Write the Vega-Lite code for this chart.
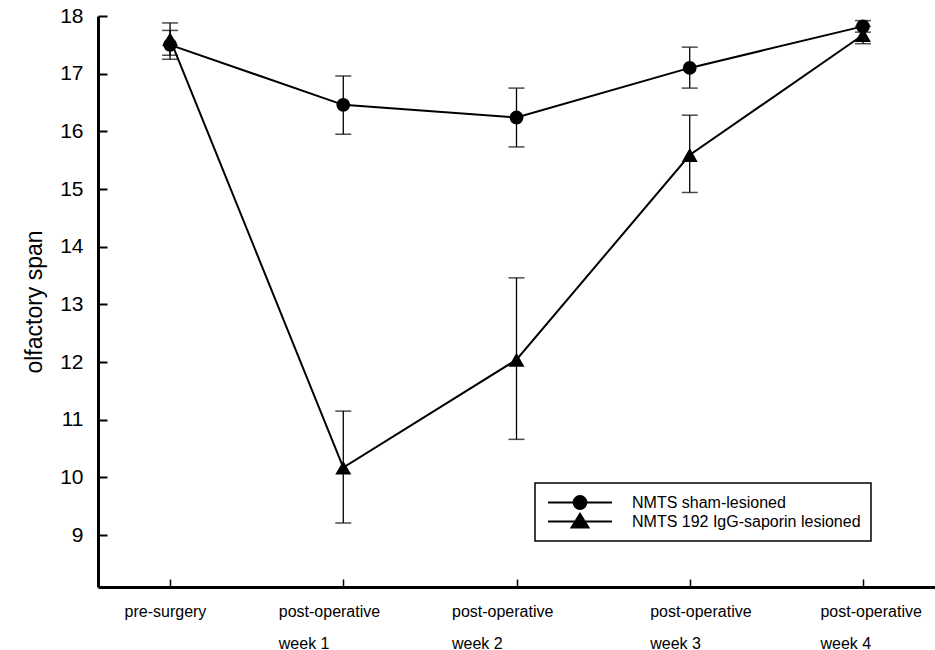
{
  "$schema": "https://vega.github.io/schema/vega-lite/v6.json",
  "width": 837,
  "height": 571,
  "autosize": "none",
  "padding": {"left": 98, "top": 16, "right": 0, "bottom": 63},
  "background": "white",
  "config": {
    "view": {"stroke": null},
    "font": "Liberation Sans",
    "legend": {"strokeWidth": 1.5, "labelFontSize": 16, "labelColor": "black"},
    "axisY": {
      "titleFontSize": 23,
      "titleFontWeight": "normal",
      "titleColor": "black",
      "titlePadding": 13,
      "labelFontSize": 21,
      "labelColor": "black",
      "labelPadding": 24,
      "domainColor": "black",
      "domainWidth": 3,
      "tickColor": "black",
      "tickWidth": 2,
      "tickSize": -9,
      "grid": false
    },
    "axisX": {
      "labelFontSize": 16,
      "labelColor": "black",
      "domainColor": "black",
      "domainWidth": 3,
      "tickColor": "black",
      "tickWidth": 1.5,
      "tickSize": -8,
      "grid": false
    }
  },
  "data": {
    "values": [
      {"phase": "pre-surgery", "group": "NMTS sham-lesioned", "mean": 17.5, "lo": 17.25, "hi": 17.75},
      {"phase": "post-operative week 1", "group": "NMTS sham-lesioned", "mean": 16.46, "lo": 15.95, "hi": 16.96},
      {"phase": "post-operative week 2", "group": "NMTS sham-lesioned", "mean": 16.24, "lo": 15.73, "hi": 16.75},
      {"phase": "post-operative week 3", "group": "NMTS sham-lesioned", "mean": 17.1, "lo": 16.75, "hi": 17.46},
      {"phase": "post-operative week 4", "group": "NMTS sham-lesioned", "mean": 17.82, "lo": 17.72, "hi": 17.92},
      {"phase": "pre-surgery", "group": "NMTS 192 IgG-saporin lesioned", "mean": 17.6, "lo": 17.32, "hi": 17.88},
      {"phase": "post-operative week 1", "group": "NMTS 192 IgG-saporin lesioned", "mean": 10.17, "lo": 9.21, "hi": 11.15},
      {"phase": "post-operative week 2", "group": "NMTS 192 IgG-saporin lesioned", "mean": 12.04, "lo": 10.66, "hi": 13.46},
      {"phase": "post-operative week 3", "group": "NMTS 192 IgG-saporin lesioned", "mean": 15.59, "lo": 14.94, "hi": 16.28},
      {"phase": "post-operative week 4", "group": "NMTS 192 IgG-saporin lesioned", "mean": 17.67, "lo": 17.52, "hi": 17.82}
    ]
  },
  "encoding": {
    "x": {
      "field": "phase",
      "type": "ordinal",
      "sort": ["pre-surgery", "post-operative week 1", "post-operative week 2", "post-operative week 3", "post-operative week 4"],
      "scale": {"type": "point", "padding": 0.416},
      "axis": {
        "title": null,
        "labelAngle": 0,
        "labelAlign": "left",
        "labelBaseline": "top",
        "labelPadding": 24,
        "labelLineHeight": 32,
        "labelExpr": "datum.value == 'pre-surgery' ? datum.label : ['post-operative', replace(datum.label, 'post-operative ', '')]",
        "labelOffset": {
          "condition": [
            {"test": "datum.value == 'pre-surgery'", "value": -46},
            {"test": "datum.value == 'post-operative week 3'", "value": -40},
            {"test": "datum.value == 'post-operative week 4'", "value": -43}
          ],
          "value": -65
        }
      }
    }
  },
  "layer": [
    {
      "mark": {"type": "line", "color": "black", "strokeWidth": 2},
      "encoding": {
        "y": {
          "field": "mean",
          "type": "quantitative",
          "scale": {"domain": [8.1, 18], "nice": false, "zero": false},
          "axis": {
            "title": "olfactory span",
            "format": "d",
            "values": [9, 10, 11, 12, 13, 14, 15, 16, 17, 18]
          }
        },
        "detail": {"field": "group"}
      }
    },
    {
      "mark": {"type": "errorbar", "color": "black", "thickness": 1.3, "ticks": {"size": 16, "thickness": 1.5, "color": "black"}},
      "encoding": {
        "y": {
          "field": "lo",
          "type": "quantitative",
          "axis": {
            "title": "olfactory span",
            "format": "d",
            "values": [9, 10, 11, 12, 13, 14, 15, 16, 17, 18]
          }
        },
        "y2": {"field": "hi"},
        "detail": {"field": "group"}
      }
    },
    {
      "mark": {"type": "point", "filled": true, "opacity": 1, "color": "black"},
      "encoding": {
        "y": {"field": "mean", "type": "quantitative", "axis": {"title": "olfactory span", "format": "d", "values": [9, 10, 11, 12, 13, 14, 15, 16, 17, 18]}},
        "shape": {
          "field": "group",
          "scale": {"domain": ["NMTS sham-lesioned", "NMTS 192 IgG-saporin lesioned"], "range": ["circle", "triangle-up"]},
          "legend": null
        },
        "size": {
          "field": "group",
          "scale": {"domain": ["NMTS sham-lesioned", "NMTS 192 IgG-saporin lesioned"], "range": [190, 256]},
          "legend": null
        }
      }
    },
    {
      "mark": {"type": "point", "filled": false, "opacity": 0, "color": "black", "size": 0},
      "encoding": {
        "y": {"field": "mean", "type": "quantitative", "axis": {"title": "olfactory span", "format": "d", "values": [9, 10, 11, 12, 13, 14, 15, 16, 17, 18]}},
        "shape": {
          "field": "group",
          "scale": {
            "domain": ["NMTS sham-lesioned", "NMTS 192 IgG-saporin lesioned"],
            "range": [
              "M-5.33,0L5.33,0M1.067,0A1.067,1.067,0,1,1,-1.067,0A1.067,1.067,0,1,1,1.067,0ZM0.733,0A0.733,0.733,0,1,1,-0.733,0A0.733,0.733,0,1,1,0.733,0ZM0.4,0A0.4,0.4,0,1,1,-0.4,0A0.4,0.4,0,1,1,0.4,0ZM0.107,0A0.107,0.107,0,1,1,-0.107,0A0.107,0.107,0,1,1,0.107,0Z",
              "M-5.33,0L5.33,0M0,-1.267L1.4,1L-1.4,1ZM0,-0.822L0.98,0.765L-0.98,0.765ZM0,-0.375L0.56,0.532L-0.56,0.532ZM0,0.04L0.168,0.312L-0.168,0.312Z"
            ]
          },
          "legend": {
            "title": null,
            "orient": "none",
            "legendX": 437,
            "legendY": 467,
            "padding": 10,
            "strokeColor": "black",
            "fillColor": "white",
            "symbolSize": 144,
            "symbolOffset": 27,
            "symbolStrokeColor": "black",
            "symbolStrokeWidth": 2,
            "symbolOpacity": 1,
            "labelOffset": 44,
            "labelFontSize": 16,
            "labelColor": "black",
            "labelLimit": 400,
            "clipHeight": 19,
            "rowPadding": 0,
            "encode": {
              "legend": {"update": {"strokeWidth": {"value": 1.5}, "width": {"value": 365}}}
            }
          }
        }
      }
    }
  ],
  "resolve": {"scale": {"shape": "independent", "size": "independent"}}
}
